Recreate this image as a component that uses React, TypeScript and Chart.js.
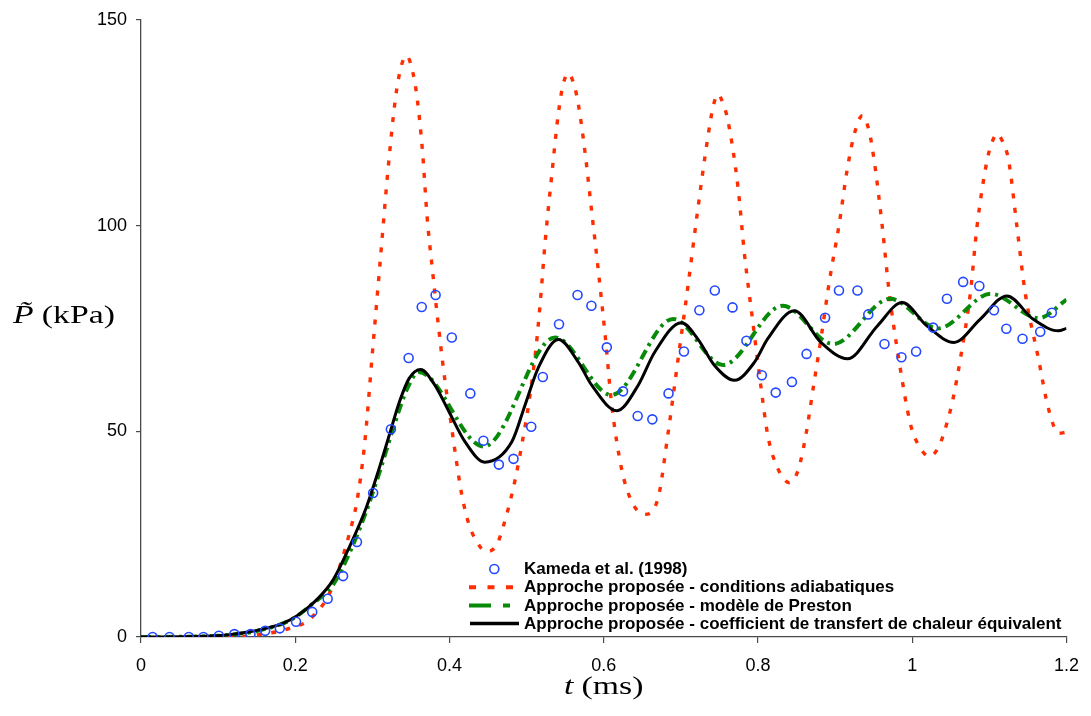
import React, { useEffect, useRef } from 'react';
import { Chart, registerables } from 'chart.js';

Chart.register(...registerables);

// ---- Data (t in ms, P in kPa) ----
const kamedaT = [0.015, 0.037, 0.062, 0.081, 0.101, 0.121, 0.142, 0.161, 0.18, 0.201, 0.222, 0.242, 0.262, 0.28, 0.301, 0.324, 0.347, 0.364, 0.382, 0.403, 0.427, 0.444, 0.464, 0.483, 0.506, 0.521, 0.542, 0.566, 0.584, 0.604, 0.625, 0.644, 0.663, 0.684, 0.704, 0.724, 0.744, 0.767, 0.785, 0.805, 0.823, 0.844, 0.863, 0.887, 0.905, 0.929, 0.943, 0.964, 0.986, 1.005, 1.027, 1.045, 1.066, 1.087, 1.106, 1.122, 1.143, 1.166, 1.181];
const kamedaP = [0, 0, 0, 0, 0.3, 0.7, 0.7, 1.5, 2.1, 3.7, 6.1, 9.3, 14.8, 23.1, 35.0, 50.5, 67.8, 80.2, 83.1, 72.8, 59.2, 47.7, 41.9, 43.3, 51.1, 63.2, 76.0, 83.1, 80.5, 70.4, 59.7, 53.7, 52.9, 59.2, 69.4, 79.4, 84.2, 80.1, 72.0, 63.6, 59.4, 62.0, 68.8, 77.6, 84.2, 84.2, 78.4, 71.2, 68.0, 69.4, 75.2, 82.2, 86.3, 85.3, 79.4, 74.9, 72.5, 74.2, 78.8];

const adiabT = [0, 0.05, 0.1, 0.14, 0.16, 0.18, 0.2, 0.214, 0.23, 0.24, 0.25, 0.26, 0.27, 0.28, 0.29, 0.3, 0.31, 0.32, 0.33, 0.337, 0.344, 0.351, 0.358, 0.365, 0.371, 0.378, 0.386, 0.395, 0.402, 0.408, 0.416, 0.425, 0.436, 0.447, 0.46, 0.473, 0.486, 0.494, 0.503, 0.512, 0.518, 0.524, 0.533, 0.541, 0.547, 0.554, 0.561, 0.567, 0.576, 0.584, 0.593, 0.602, 0.61, 0.623, 0.636, 0.653, 0.6705, 0.683, 0.696, 0.709, 0.722, 0.735, 0.742, 0.748, 0.755, 0.761, 0.774, 0.7825, 0.793, 0.803, 0.8127, 0.8256, 0.8406, 0.852, 0.862, 0.872, 0.882, 0.893, 0.905, 0.916, 0.926, 0.9354, 0.944, 0.9505, 0.961, 0.97, 0.983, 0.998, 1.0086, 1.0224, 1.035, 1.045, 1.053, 1.0624, 1.0754, 1.084, 1.097, 1.104, 1.1098, 1.117, 1.125, 1.1357, 1.1464, 1.1637, 1.1766, 1.19, 1.2];
const adiabP = [0, 0, 0.05, 0.25, 0.8, 1.4, 2.6, 3.6, 6.5, 9, 13, 18.5, 25, 33, 47, 69, 91, 113, 131, 138.4, 141.3, 138.4, 131, 118, 102, 89, 75, 61, 52, 44, 34.5, 27.5, 23, 20.8, 22, 29, 39, 47, 57, 70, 82, 96, 113, 127, 134, 137, 134.5, 129.5, 117.4, 104, 89, 73, 57, 41, 33, 29.8, 33.8, 49, 67, 85, 104, 121.5, 129, 131.9, 129.5, 125.5, 109.4, 93, 77, 62, 49, 41, 37.5, 40.5, 49, 61, 73, 87, 100, 114, 123, 126.7, 123, 116, 100, 84, 67, 51.5, 46.5, 43.9, 46.5, 52, 58, 67.6, 83.7, 99.8, 115.8, 120.5, 122.3, 120.5, 115.8, 99.8, 83.7, 67.6, 55.5, 49.5, 49.8];

const prestonT = [0, 0.05, 0.1, 0.14, 0.16, 0.18, 0.2, 0.22, 0.25, 0.27, 0.29, 0.31, 0.33, 0.345, 0.36, 0.4444, 0.537, 0.61, 0.69, 0.7545, 0.832, 0.8975, 0.9715, 1.0335, 1.102, 1.164, 1.2];
const prestonP = [0, 0.05, 0.3, 1.1, 1.9, 3.0, 4.8, 7.7, 13, 20.3, 29.5, 40.5, 52.5, 60.3, 64.4, 46.3, 72.8, 58.8, 77.3, 66.1, 80.5, 71.2, 82.2, 75, 83.4, 77.5, 82];

const htcT = [0, 0.05, 0.098, 0.12, 0.141, 0.162, 0.184, 0.205, 0.227, 0.2485, 0.27, 0.292, 0.309, 0.322, 0.335, 0.3475, 0.3626, 0.38, 0.4, 0.42, 0.4457, 0.481, 0.498, 0.5155, 0.5413, 0.567, 0.5844, 0.617, 0.6447, 0.666, 0.7007, 0.722, 0.7437, 0.7696, 0.7955, 0.8127, 0.847, 0.8816, 0.916, 0.9548, 0.987, 1.019, 1.054, 1.088, 1.1227, 1.157, 1.1895, 1.2];
const htcP = [0, 0.05, 0.3, 0.7, 1.3, 2.1, 3.3, 5.5, 8.9, 13.7, 21.8, 31.4, 41.1, 49.1, 57.1, 62.8, 65, 61.5, 54.5, 47.5, 42.5, 47.5, 56.4, 65.6, 72.3, 66.8, 61.2, 55, 61.2, 69.2, 76.4, 72.4, 66, 62.4, 66.8, 72.5, 79.3, 71.6, 67.6, 75.6, 81.3, 75.6, 71.6, 77.2, 82.9, 77.2, 74.4, 75];

const xTickLabels = ['0', '0.2', '0.4', '0.6', '0.8', '1', '1.2'];
const yTickLabels = ['0', '50', '100', '150'];

const legendLabels = [
  'Kameda et al. (1998)',
  'Approche proposée - conditions adiabatiques',
  'Approche proposée - modèle de Preston',
  'Approche proposée - coefficient de transfert de chaleur équivalent',
];

// ---- Styles ----
const BLUE = '#2448ff';
const RED = '#ff2d00';
const GREEN = '#078a07';
const BLACK = '#000000';
const AXIS = '#4a4a4a';

const toXY = (t: number[], p: number[]) => t.map((x, i) => ({ x, y: p[i] }));

const axisTitlePlugin = {
  id: 'axisTitles',
  afterDraw(chart: any) {
    const { ctx, chartArea } = chart;
    const size = 25;
    const sx = 1.35;
    const drawTitle = (it: string, up: string, cx: number, baseline: number) => {
      ctx.save();
      ctx.fillStyle = '#000';
      ctx.textBaseline = 'alphabetic';
      ctx.textAlign = 'left';
      const fIt = `italic ${size}px "Liberation Serif"`;
      const fUp = `${size}px "Liberation Serif"`;
      ctx.font = fIt;
      const w1 = ctx.measureText(it).width;
      ctx.font = fUp;
      const w2 = ctx.measureText(up).width;
      const gap = size * 0.24;
      const total = (w1 + gap + w2) * sx;
      ctx.translate(cx - total / 2, baseline);
      ctx.scale(sx, 1);
      ctx.font = fIt;
      ctx.fillText(it, 0, 0);
      ctx.font = fUp;
      ctx.fillText(up, w1 + gap, 0);
      ctx.restore();
    };
    drawTitle('t', '(ms)', (chartArea.left + chartArea.right) / 2, chart.height - 22);
    drawTitle('P\u0303', '(kPa)', chartArea.left - 77, (chartArea.top + chartArea.bottom) / 2 - 5);
  },
};

// legend rows: dataset index for each legend label, and symbol dash patterns
const legendDatasetIdx = [0, 3, 2, 1];
const legendDash: number[][] = [[], [7, 11.5], [22, 12, 7, 60], []];
const legendLen = [0, 44, 41, 49];

const legendPlugin = {
  id: 'customLegend',
  afterDraw(chart: any) {
    const { ctx, chartArea } = chart;
    const symX = chartArea.left + 328;
    const textX = chartArea.left + 383;
    const y0 = chartArea.bottom - 68;
    const step = 18.2;
    ctx.save();
    legendLabels.forEach((label, row) => {
      const ds = chart.data.datasets[legendDatasetIdx[row]];
      const y = y0 + row * step;
      if (row === 0) {
        ctx.beginPath();
        ctx.setLineDash([]);
        ctx.strokeStyle = ds.pointBorderColor;
        ctx.lineWidth = ds.pointBorderWidth;
        ctx.arc(symX + 25.3, y, ds.pointRadius, 0, Math.PI * 2);
        ctx.stroke();
      } else {
        ctx.beginPath();
        ctx.setLineDash(legendDash[row]);
        ctx.strokeStyle = ds.borderColor;
        ctx.lineWidth = row === 3 ? 3.5 : 4;
        ctx.lineCap = 'butt';
        const sx0 = row === 3 ? symX + 1 : symX;
        ctx.moveTo(sx0, y);
        ctx.lineTo(sx0 + legendLen[row], y);
        ctx.stroke();
      }
      ctx.setLineDash([]);
      ctx.fillStyle = '#000';
      ctx.font = 'bold 17px "Liberation Sans"';
      ctx.textAlign = 'left';
      ctx.textBaseline = 'middle';
      ctx.fillText(label, textX, y + 0.5);
    });
    ctx.restore();
  },
};

export default function App() {
  const canvasRef = useRef<HTMLCanvasElement | null>(null);

  useEffect(() => {
    const canvas = canvasRef.current;
    if (!canvas) return;
    const tickFont = { family: '"Liberation Sans", Arial, sans-serif', size: 18 };
    const chart = new Chart(canvas, {
      type: 'line',
      data: {
        datasets: [
          {
            label: legendLabels[0],
            data: toXY(kamedaT, kamedaP),
            showLine: false,
            pointStyle: 'circle',
            pointRadius: 4.5,
            pointBorderWidth: 1.6,
            pointBorderColor: BLUE,
            pointBackgroundColor: 'rgba(0,0,0,0)',
            borderColor: BLUE,
          },
          {
            label: legendLabels[3],
            data: toXY(htcT, htcP),
            borderColor: BLACK,
            borderWidth: 3,
            pointRadius: 0,
            cubicInterpolationMode: 'monotone',
            fill: false,
          },
          {
            label: legendLabels[2],
            data: toXY(prestonT, prestonP),
            borderColor: GREEN,
            borderWidth: 4,
            borderDash: [10, 5, 3, 5],
            pointRadius: 0,
            cubicInterpolationMode: 'monotone',
            fill: false,
          },
          {
            label: legendLabels[1],
            data: toXY(adiabT, adiabP),
            borderColor: RED,
            borderWidth: 3.4,
            borderDash: [5, 9.5],
            pointRadius: 0,
            cubicInterpolationMode: 'monotone',
            fill: false,
          },
        ] as any,
      },
      options: {
        animation: false,
        responsive: false,
        events: [],
        layout: { padding: { left: 0, right: 21, top: 15, bottom: 0 } },
        plugins: {
          legend: { display: false },
          tooltip: { enabled: false },
          title: { display: false },
        },
        scales: {
          x: {
            type: 'linear',
            min: 0,
            max: 1.2,
            afterFit: (s: any) => {
              s.height = 79;
            },
            ticks: {
              stepSize: 0.2,
              autoSkip: false,
              maxRotation: 0,
              padding: 12,
              color: '#000',
              font: tickFont,
              callback: (_v: any, i: number) => xTickLabels[i],
            },
            grid: {
              drawOnChartArea: false,
              drawTicks: true,
              tickLength: 6,
              color: AXIS,
              lineWidth: 1.2,
            },
            border: { display: true, color: AXIS, width: 1.3 },
            title: { display: false },
          },
          y: {
            type: 'linear',
            min: 0,
            max: 150,
            afterFit: (s: any) => {
              s.width = 141;
            },
            ticks: {
              stepSize: 50,
              padding: 9,
              color: '#000',
              font: tickFont,
              callback: (_v: any, i: number) => yTickLabels[i],
            },
            grid: {
              drawOnChartArea: false,
              drawTicks: true,
              tickLength: 5,
              color: AXIS,
              lineWidth: 1.2,
            },
            border: { display: true, color: AXIS, width: 1.3 },
            title: { display: false },
          },
        },
      } as any,
      plugins: [axisTitlePlugin, legendPlugin],
    });
    return () => {
      chart.destroy();
    };
  }, []);

  return (
    <div style={{ position: 'absolute', left: 0, top: 0, width: 1091, height: 716, background: '#fff' }}>
      <canvas ref={canvasRef} width={1091} height={716} style={{ display: 'block' }} />
    </div>
  );
}
